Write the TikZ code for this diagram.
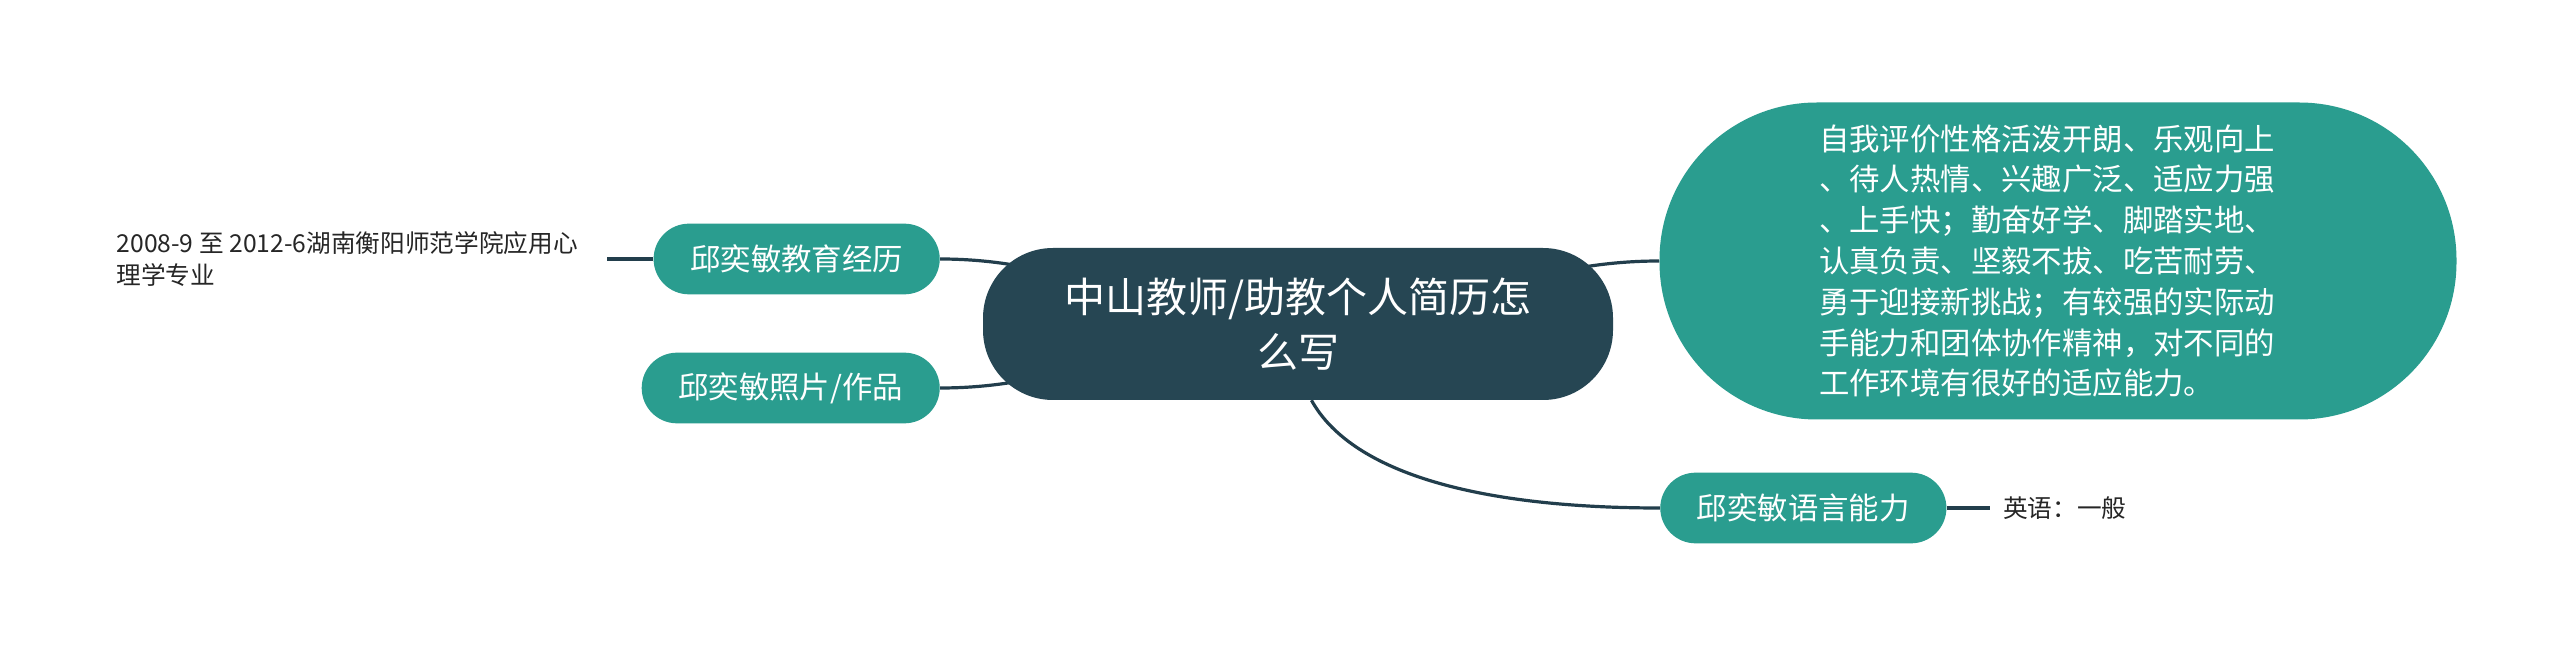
\documentclass[tikz,border=0pt]{standalone}
\usepackage{fontspec}
\usepackage{xcolor}
\usepackage{tikz}
\usetikzlibrary{backgrounds}
\setmainfont{Noto Sans CJK SC}
\definecolor{rootfill}{RGB}{38,70,83}
\definecolor{topicfill}{RGB}{42,157,143}
\definecolor{linkcol}{RGB}{34,62,76}

\begin{document}
\begin{tikzpicture}[x=0.75pt,y=0.75pt,yscale=-1,xscale=1,
  rootnode/.style={fill=rootfill,text=white,rounded corners=52.5pt,minimum width=472.5pt,minimum height=114pt,align=center,font=\fontsize{30.75pt}{41.25pt}\selectfont},
  topic/.style={fill=topicfill,text=white,rounded corners=26.5pt,minimum height=53pt,inner xsep=27.5pt,font=\fontsize{22.8pt}{30.6pt}\selectfont},
  leaf/.style={text=black!85,inner ysep=0pt,align=left,font=\fontsize{18.5pt}{24pt}\selectfont},
  link/.style={draw=linkcol,line width=2.4pt}]
\useasboundingbox (0,0) rectangle (2560,648);

% Text Node
\draw (1298,324) node (root) [rootnode] {中山教师/助教个人简历怎\\么写};
% Text Node
\draw (940,259) node (edu) [topic,anchor=east] {邱奕敏教育经历};
% Text Node
\draw (940,388) node (photo) [topic,anchor=east] {邱奕敏照片/作品};
% Text Node
\draw (1660,508) node (lang) [topic,anchor=west] {邱奕敏语言能力};
% Text Node
\draw (2058,261) node (self) [topic,minimum width=597.75pt,minimum height=237.75pt,rounded corners=118pt,text width=358.5pt,align=left] {自我评价性格活泼开朗、乐观向上\\、待人热情、兴趣广泛、适应力强\\、上手快；勤奋好学、脚踏实地、\\认真负责、坚毅不拔、吃苦耐劳、\\勇于迎接新挑战；有较强的实际动\\手能力和团体协作精神，对不同的\\工作环境有很好的适应能力。};
% Text Node
\draw (607,259) node (eduleaf) [leaf,anchor=east,inner xsep=21.75pt] {2008-9 至 2012-6湖南衡阳师范学院应用心\\理学专业};
% Text Node
\draw (1990,508) node (langleaf) [leaf,anchor=west,inner xsep=9.75pt] {英语：一般};

\begin{scope}[on background layer]
\fill [white] (0,0) rectangle (2560,648);
%Straight Lines
\draw [link] (eduleaf.east) -- (edu.west);
\draw [link] (lang.east) -- (langleaf.west);
%Curve Lines
\draw [link] (edu.east) to[out=0,in=180] (root.center);
\draw [link] (photo.east) to[out=0,in=180] (root.center);
\draw [link] (root.center) to[out=0,in=180] (self.west);
\draw [link] (root.-80) .. controls (1350,470) and (1470,508) .. (lang.west);
\end{scope}
\end{tikzpicture}
\end{document}
